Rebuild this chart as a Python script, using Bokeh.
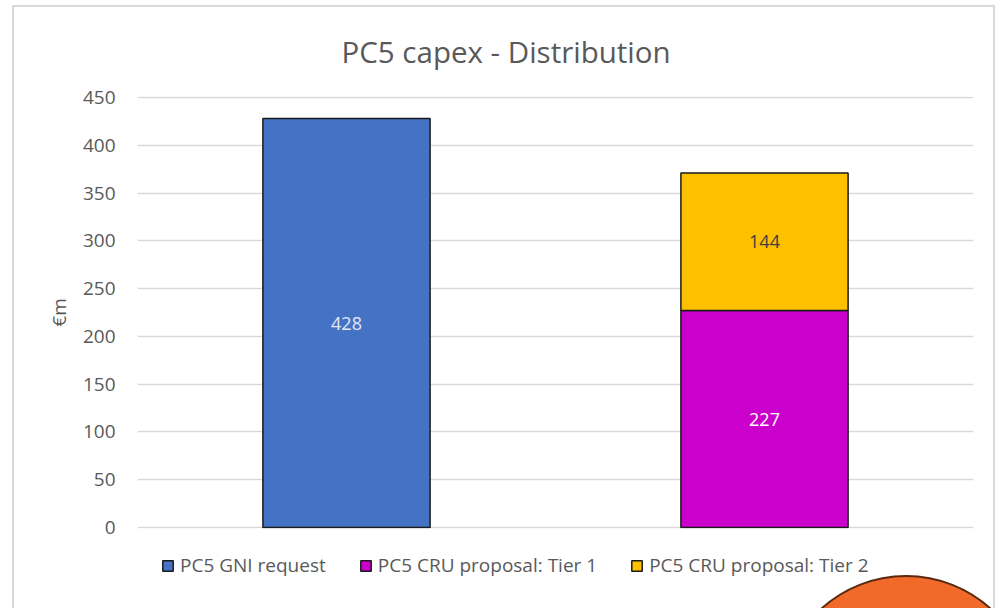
from bokeh.plotting import figure
from bokeh.models import (ColumnDataSource, Range1d, FactorRange, Legend, LegendItem,
                          LabelSet, FixedTicker, InlineStyleSheet)
from bokeh.core.properties import value
from bokeh.embed import file_html
from bokeh.resources import INLINE

# ---- data ----
categories = ["PC5 GNI request", "PC5 CRU proposal"]
series_names = ["PC5 GNI request", "PC5 CRU proposal: Tier 1", "PC5 CRU proposal: Tier 2"]
gni_request = [428, 0]
cru_tier1 = [0, 227]
cru_tier2 = [0, 144]
y_ticks = [0, 50, 100, 150, 200, 250, 300, 350, 400, 450]
title_text = "PC5 capex - Distribution"
y_label = "€m"

FONT = "Open Sans"
GREY = "#595959"

p = figure(frame_width=836, frame_height=432,
           x_range=FactorRange(*categories), y_range=Range1d(-1, 451),
           x_axis_location=None,
           output_backend="svg", toolbar_location=None,
           min_border_left=137, min_border_right=31, min_border_top=96, min_border_bottom=80)
p.outline_line_color = None
p.background_fill_color = "white"
p.border_fill_color = "white"

# bars
def stack_source(cat, bottoms, tops):
    xs, b, t, mid, lab = [], [], [], [], []
    for c, lo, hi in zip(cat, bottoms, tops):
        if hi - lo > 0:
            xs.append(c); b.append(lo); t.append(hi); mid.append((lo + hi) / 2); lab.append(str(hi - lo))
    return ColumnDataSource(dict(x=xs, bottom=b, top=t, mid=mid, label=lab))

zeros = [0] * len(categories)
t1_top = [a + b for a, b in zip(gni_request, cru_tier1)]
t2_top = [a + b for a, b in zip(t1_top, cru_tier2)]
src_gni = stack_source(categories, zeros, gni_request)
src_t1 = stack_source(categories, gni_request, t1_top)
src_t2 = stack_source(categories, t1_top, t2_top)

colors = ["#4472C4", "#CC00CC", "#FFC000"]
label_colors = ["#E4E8F4", "#FFFFFF", "#404040"]
renderers = []
for src, col, lc in zip([src_gni, src_t1, src_t2], colors, label_colors):
    r = p.vbar(x="x", bottom="bottom", top="top", width=0.4, source=src,
               fill_color=col, line_color="#1a1a1a", line_width=1.5)
    renderers.append(r)
    p.add_layout(LabelSet(x="x", y="mid", text="label", source=src, text_align="center",
                          text_baseline="middle", text_font=value(FONT), text_font_size="18px",
                          text_color=lc))

# title
p.title.text = title_text
p.title.align = "left"
p.title.offset = 204
p.title.standoff = 50
p.title.text_font = FONT
p.title.text_font_size = "29.5px"
p.title.text_font_style = "normal"
p.title.text_color = GREY

# axes
p.xgrid.visible = False
p.yaxis.ticker = FixedTicker(ticks=y_ticks)
p.yaxis.axis_line_color = None
p.yaxis.major_tick_line_color = None
p.yaxis.minor_tick_line_color = None
p.yaxis.major_label_standoff = 16
p.yaxis.major_label_text_font = FONT
p.yaxis.major_label_text_font_size = "19px"
p.yaxis.major_label_text_color = GREY
p.yaxis.axis_label = y_label
p.yaxis.axis_label_text_font = FONT
p.yaxis.axis_label_text_font_size = "19px"
p.yaxis.axis_label_text_font_style = "normal"
p.yaxis.axis_label_text_color = GREY
p.yaxis.axis_label_standoff = 8
p.ygrid.grid_line_color = "#D9D9D9"
p.ygrid.grid_line_width = 1.5

# legend under the plot
legend = Legend(items=[LegendItem(label=n, renderers=[r]) for n, r in zip(series_names, renderers)],
                orientation="horizontal", location="top_left", padding=0, margin=24,
                spacing=33, label_standoff=6, glyph_width=13, glyph_height=13,
                label_text_font=FONT, label_text_font_size="19px", label_text_color=GREY,
                border_line_color=None, background_fill_alpha=0)
p.add_layout(legend, "below")

# decorations of the screenshot: light chart border and an orange shape at bottom right
css = """
:host { overflow: hidden; }
:host::before {
  content: ""; position: absolute; left: 12px; top: 5px; width: 983px; height: 700px;
  border: 2px solid #D9D9D9; box-sizing: border-box; z-index: 5; pointer-events: none;
}
:host::after {
  content: ""; position: absolute; left: 779px; top: 575px; width: 254px; height: 254px;
  border-radius: 50%; background: #F26A2A; border: 2px solid #5A2A0E;
  box-sizing: border-box; z-index: 6; pointer-events: none;
}
"""
p.stylesheets = [InlineStyleSheet(css=css)]

open("out.html", "w").write(file_html(p, INLINE))
